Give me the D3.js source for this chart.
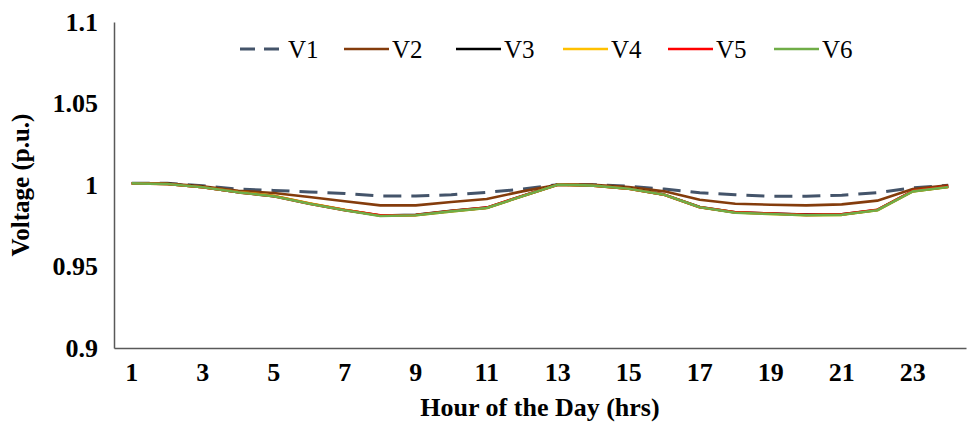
<!DOCTYPE html>
<html>
<head>
<meta charset="utf-8">
<script src="https://cdn.jsdelivr.net/npm/d3@7"></script>
<style>
  body { margin: 0; background: #fff; }
  svg text { font-family: "Liberation Serif", "Times New Roman", serif; }
</style>
</head>
<body>
<svg id="chart" width="970" height="423"></svg>
<script>
// Hourly bus voltages (p.u.) over one day
const hours = d3.range(1, 25);
const xTickLabels = [1, 3, 5, 7, 9, 11, 13, 15, 17, 19, 21, 23];
const yTicks = [0.9, 0.95, 1, 1.05, 1.1];
const seriesNames = ["V1", "V2", "V3", "V4", "V5", "V6"];
const seriesColors = ["#44546A", "#843C0C", "#000000", "#FFC000", "#FF0000", "#70AD47"];

const v1 = [1.0011, 1.0010, 0.9995, 0.9975, 0.9967, 0.9957, 0.9948, 0.9932, 0.9932, 0.9940, 0.9955, 0.9975,
            1.0002, 1.0002, 0.9992, 0.9975, 0.9953, 0.9940, 0.9931, 0.9931, 0.9937, 0.9953, 0.9982, 0.9998];
const v2 = [1.0011, 1.0009, 0.9992, 0.9965, 0.9951, 0.9926, 0.9900, 0.9875, 0.9875, 0.9896, 0.9914, 0.9961,
            1.0002, 1.0002, 0.9988, 0.9961, 0.9910, 0.9885, 0.9879, 0.9875, 0.9881, 0.9904, 0.9975, 0.9998];
const v3 = [1.0011, 1.0007, 0.9987, 0.9956, 0.9932, 0.9887, 0.9847, 0.9813, 0.9817, 0.9841, 0.9861, 0.9932,
            1.0003, 0.9997, 0.9978, 0.9941, 0.9865, 0.9832, 0.9825, 0.9818, 0.9820, 0.9847, 0.9962, 0.9989];
const v4 = [1.0010, 1.0006, 0.9986, 0.9957, 0.9934, 0.9888, 0.9848, 0.9811, 0.9814, 0.9838, 0.9859, 0.9931,
            1.0002, 0.9996, 0.9977, 0.9940, 0.9864, 0.9831, 0.9822, 0.9814, 0.9817, 0.9845, 0.9961, 0.9988];
const v5 = [1.0010, 1.0006, 0.9986, 0.9955, 0.9931, 0.9885, 0.9846, 0.9814, 0.9816, 0.9840, 0.9861, 0.9933,
            1.0002, 0.9996, 0.9977, 0.9940, 0.9864, 0.9833, 0.9825, 0.9817, 0.9820, 0.9848, 0.9964, 0.9990];
const v6 = [1.0010, 1.0006, 0.9986, 0.9955, 0.9931, 0.9885, 0.9845, 0.9810, 0.9814, 0.9838, 0.9859, 0.9931,
            1.0002, 0.9996, 0.9977, 0.9940, 0.9863, 0.9830, 0.9822, 0.9814, 0.9817, 0.9845, 0.9961, 0.9988];
const seriesValues = [v1, v2, v3, v4, v5, v6];

const svg = d3.select("#chart");
const plotLeft = 114, plotRight = 966, plotTop = 22, plotBottom = 348;

const x = d3.scaleBand().domain(hours).range([plotLeft, plotRight]);
const xc = h => x(h) + x.bandwidth() / 2;
const y = d3.scaleLinear().domain([0.9, 1.1]).range([plotBottom, plotTop]);

// Axes
const axisColor = "#595959";
const tickFont = 26;
svg.append("g")
  .attr("transform", `translate(0,${plotBottom})`)
  .call(d3.axisBottom(x).tickValues(xTickLabels).tickSize(0).tickPadding(15))
  .call(g => g.select(".domain").attr("stroke", axisColor).attr("stroke-width", 1.5))
  .call(g => g.selectAll("text")
    .attr("font-family", "Liberation Serif, Times New Roman, serif")
    .attr("font-weight", "bold").attr("font-size", tickFont).attr("fill", "#000"));

svg.append("g")
  .attr("transform", `translate(${plotLeft},0)`)
  .call(d3.axisLeft(y).tickValues(yTicks).tickFormat(d => String(d)).tickSize(0).tickPadding(16))
  .call(g => g.select(".domain").attr("stroke", axisColor).attr("stroke-width", 1.5))
  .call(g => g.selectAll("text")
    .attr("font-family", "Liberation Serif, Times New Roman, serif")
    .attr("font-weight", "bold").attr("font-size", tickFont).attr("fill", "#000"));

// Series lines
const line = d3.line().x((d, i) => xc(hours[i])).y(d => y(d));
seriesValues.forEach((vals, i) => {
  svg.append("path")
    .datum(vals)
    .attr("d", line)
    .attr("fill", "none")
    .attr("stroke", seriesColors[i])
    .attr("stroke-width", i === 0 ? 3 : 2.6)
    .attr("stroke-linejoin", "round")
    .attr("stroke-dasharray", i === 0 ? "18,10" : null);
});

// Legend
const legendX = [240, 344, 456, 563, 668, 774];
const legendY = 49;
const leg = svg.append("g");
seriesNames.forEach((name, i) => {
  leg.append("line")
    .attr("x1", legendX[i]).attr("x2", legendX[i] + 45)
    .attr("y1", legendY).attr("y2", legendY)
    .attr("stroke", seriesColors[i])
    .attr("stroke-width", i === 0 ? 3 : 2.6)
    .attr("stroke-dasharray", i === 0 ? "15,9" : null);
  leg.append("text")
    .attr("x", legendX[i] + 48).attr("y", legendY + 9)
    .attr("font-size", 25).attr("fill", "#000")
    .text(name);
});

// Axis titles
svg.append("text")
  .attr("x", (plotLeft + plotRight) / 2).attr("y", 416)
  .attr("text-anchor", "middle").attr("font-weight", "bold").attr("font-size", 26)
  .text("Hour of the Day (hrs)");

svg.append("text")
  .attr("transform", `translate(29,${(plotTop + plotBottom) / 2}) rotate(-90)`)
  .attr("text-anchor", "middle").attr("font-weight", "bold").attr("font-size", 25)
  .text("Voltage (p.u.)");
</script>
</body>
</html>
